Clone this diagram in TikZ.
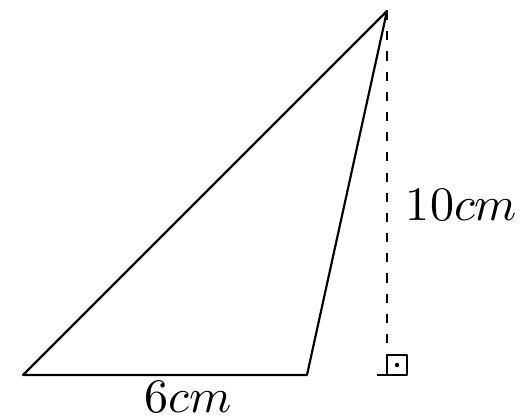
\documentclass[tikz,border=0pt]{standalone}
\begin{document}
\begin{tikzpicture}[x=0.208pt,y=-0.208pt,
  edge/.style={line width=0.45pt, line join=round},
  lbl/.style={inner sep=0pt}]
\useasboundingbox (0,0) rectangle (521,419);
\coordinate (A) at (23,375);
\coordinate (B) at (307,375);
\coordinate (C) at (387,11);
\coordinate (F) at (387,375);
\coordinate (L) at (377,375);
\draw[edge] (A) -- (B) -- (C) -- cycle;
\draw[edge, dash pattern=on 1.9pt off 2.3pt] (C) -- (F);
\draw[edge] (L) -- (F);
\draw[edge] (F) rectangle ++(20,-20);
\fill (397,365) circle (0.45pt);
\node[lbl, anchor=base] (six) at (188,413) {$6cm$};
\node[lbl, anchor=base west] (ten) at (405,221) {$10cm$};
\end{tikzpicture}
\end{document}
